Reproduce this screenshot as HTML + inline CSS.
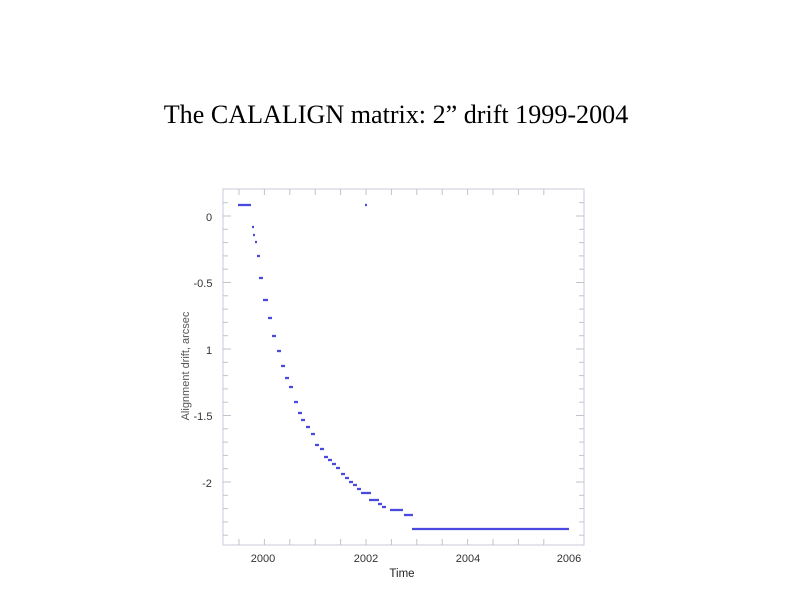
<!DOCTYPE html>
<html><head><meta charset="utf-8"><style>
html,body{margin:0;padding:0;background:#fff;width:792px;height:612px;overflow:hidden}
</style></head><body>
<svg id="s" width="792" height="612" xmlns="http://www.w3.org/2000/svg">
<text x="396" y="123" text-anchor="middle" font-family="Liberation Serif, serif" font-size="26.1" fill="#000">The CALALIGN matrix: 2” drift 1999-2004</text>
<rect x="223" y="189" width="361" height="356" fill="none" stroke="#c8cad8" stroke-width="1"/>
<g id="ticks" stroke="#c0c2d0" stroke-width="1"></g>
<g font-family="Liberation Sans, sans-serif" font-size="11" fill="#333">
<text x="209" y="221" text-anchor="middle">0</text>
<text x="203" y="287" text-anchor="middle">-0.5</text>
<text x="209" y="354" text-anchor="middle">1</text>
<text x="203" y="420" text-anchor="middle">-1.5</text>
<text x="207" y="487" text-anchor="middle">-2</text>
<text x="263" y="562" text-anchor="middle">2000</text>
<text x="366" y="562" text-anchor="middle">2002</text>
<text x="468" y="562" text-anchor="middle">2004</text>
<text x="569" y="562" text-anchor="middle">2006</text>
<text x="402" y="577" text-anchor="middle" font-size="11.5" fill="#222">Time</text>
<text transform="translate(189,366) rotate(-90)" text-anchor="middle" font-size="11" fill="#555">Alignment drift, arcsec</text>
</g>
<g id="pts" stroke="#4a4ae0" stroke-width="2.3" fill="none"></g>
</svg>
<script>
var t=document.getElementById('ticks'),h='';
for(var y=0;y<=12;y++){var x=239+y*25.4;h+='<line x1="'+x+'" y1="189" x2="'+x+'" y2="195"/><line x1="'+x+'" y1="539" x2="'+x+'" y2="545"/>';}
for(var i=-2;i<=26;i++){var yy=216+i*13.3;if(yy<190||yy>544)continue;var L=(i%5==0)?8:5;h+='<line x1="223" y1="'+yy+'" x2="'+(223+L)+'" y2="'+yy+'"/><line x1="'+(584-L)+'" y1="'+yy+'" x2="584" y2="'+yy+'"/>';}
t.innerHTML=h;
var p=[[238,251,205],[365,367,205],[252,254,227],[253,255,235],[255,257,242],[257,260,256],[259,263,278],[263,268,300],[268,272,318],[272,276,336],[277,281,351],[281,285,366],[285,289,378],[289,293,387],[294,298,402],[298,302,413],[301,305,420],[306,310,427],[311,315,434],[315,319,445],[320,324,449],[324,328,457],[328,332,460],[332,336,464],[336,340,468],[341,345,474],[345,349,478],[349,353,482],[353,357,485],[357,361,489],[361,371,493],[369,379,500],[378,382,504],[382,386,507],[390,403,510],[404,413,515],[412,569,529]];
var g='';p.forEach(function(a){g+='<line x1="'+a[0]+'" y1="'+a[2]+'" x2="'+a[1]+'" y2="'+a[2]+'"/>';});
document.getElementById('pts').innerHTML=g;
</script>
</body></html>
